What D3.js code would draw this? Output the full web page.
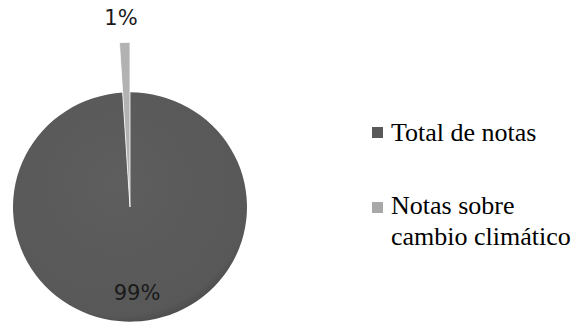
<!DOCTYPE html>
<html>
<head>
<meta charset="utf-8">
<script src="https://cdn.jsdelivr.net/npm/d3@7"></script>
<style>
  html, body { margin: 0; padding: 0; background: #fff; }
  svg { display: block; }
</style>
</head>
<body>
<svg id="chart" width="577" height="324"></svg>
<script>
// Share of notes that deal with climate change
const categories = ["Total de notas", "Notas sobre cambio climático"];
const values = [99, 1];
const labels = ["99%", "1%"];
const colors = ["#5a5a5a", "#b2b2b2"];
const legendLines = [["Total de notas"], ["Notas sobre", "cambio climático"]];

const svg = d3.select("#chart");
const cx = 130, cy = 207;
const radius = 117;

const pie = d3.pie().sort(null).value(d => d.value);
const arcs = pie(categories.map((c, i) => ({ name: c, value: values[i], label: labels[i], color: colors[i] })));

const defs = svg.append("defs");
const grad = defs.append("radialGradient")
  .attr("id", "shade").attr("cx", "45%").attr("cy", "40%").attr("r", "65%");
grad.append("stop").attr("offset", "0%").attr("stop-color", "#5e5e5e");
grad.append("stop").attr("offset", "88%").attr("stop-color", "#585858");
grad.append("stop").attr("offset", "100%").attr("stop-color", "#454545");

const g = svg.append("g").attr("transform", `translate(${cx},${cy}) scale(1,0.98)`);

// main slice
const mainArc = d3.arc().innerRadius(0).outerRadius(radius);
g.append("path")
  .attr("d", mainArc(arcs[0]))
  .attr("fill", "url(#shade)");

// small slice, pulled out beyond the rim
const smallArc = d3.arc().innerRadius(0).outerRadius(168);
g.append("path")
  .attr("d", smallArc(arcs[1]))
  .attr("fill", arcs[1].data.color)
  .attr("stroke", "#ffffff")
  .attr("stroke-width", 0.8);

// percentage labels
svg.append("text")
  .attr("x", 121).attr("y", 25)
  .attr("text-anchor", "middle")
  .attr("font-family", "DejaVu Sans").attr("font-size", 21)
  .attr("fill", "#1a1a1a")
  .text(arcs[1].data.label);

svg.append("text")
  .attr("x", 137).attr("y", 300)
  .attr("text-anchor", "middle")
  .attr("font-family", "DejaVu Sans").attr("font-size", 21)
  .attr("fill", "#1a1a1a")
  .text(arcs[0].data.label);

// legend
const legend = svg.append("g");
const legendY = [[141], [214, 245]];
const swatchY = [127, 202];
legendLines.forEach((lines, i) => {
  legend.append("rect")
    .attr("x", 372).attr("y", swatchY[i])
    .attr("width", 11).attr("height", 11)
    .attr("fill", i === 0 ? "#595959" : "#a8a8a8");
  lines.forEach((t, j) => {
    const txt = legend.append("text")
      .attr("x", 391).attr("y", legendY[i][j])
      .attr("font-family", "Liberation Serif")
      .attr("font-size", 26)
      .attr("fill", "#000")
      .text(t);
    // keep the line inside the canvas
    const w = txt.node().getComputedTextLength();
    if (391 + w > 575) txt.attr("textLength", 575 - 391).attr("lengthAdjust", "spacingAndGlyphs");
  });
});
</script>
</body>
</html>
